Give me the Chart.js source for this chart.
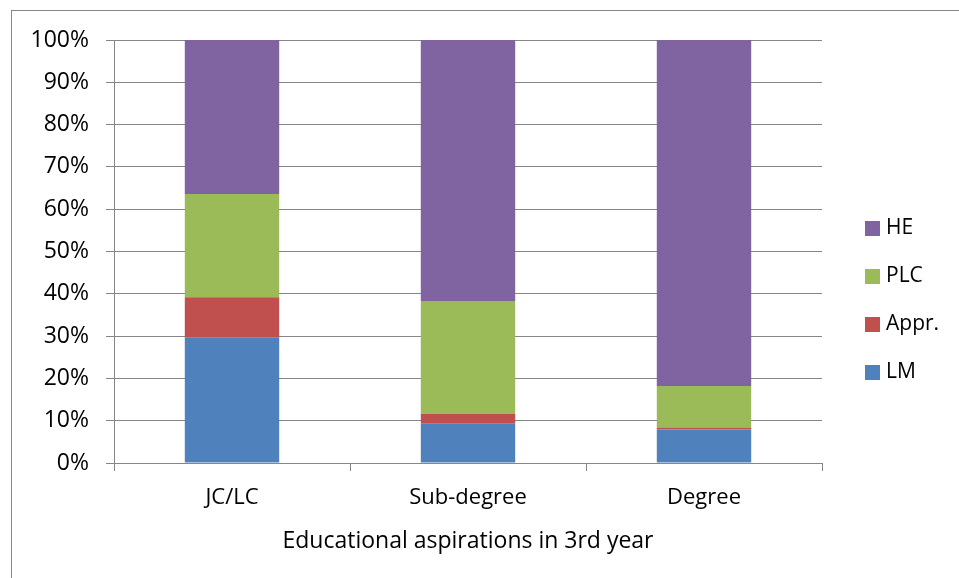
<!DOCTYPE html>
<html lang="en">
<head>
  <meta charset="UTF-8" />
  <title>Educational aspirations in 3rd year</title>
  <script src="https://cdn.jsdelivr.net/npm/chart.js"></script>
  <style>
    html, body { margin: 0; padding: 0; background: #fff; }
    #wrap { width: 959px; height: 578px; }
  </style>
</head>
<body>
  <div id="wrap"><canvas id="eduChart" width="959" height="578"></canvas></div>

  <script>
    const categories = ['JC/LC', 'Sub-degree', 'Degree'];
    const lm   = [29.6, 9.3, 7.9];
    const appr = [9.6, 2.3, 0.5];
    const plc  = [24.4, 26.7, 9.8];
    const he   = [36.4, 61.7, 81.8];
    const yTicks = [0, 10, 20, 30, 40, 50, 60, 70, 80, 90, 100];

    const fontFamily = "'Open Sans', sans-serif";
    const gridColor = '#868686';

    // outer frame (only left/top edges fall inside the picture)
    const framePlugin = {
      id: 'frame',
      beforeDraw(chart) {
        const c = chart.ctx;
        c.save();
        c.fillStyle = '#fff';
        c.fillRect(0, 0, chart.width, chart.height);
        c.strokeStyle = '#888';
        c.lineWidth = 1;
        c.strokeRect(11.5, 10.5, chart.width + 20, chart.height + 20);
        c.restore();
      }
    };

    // legend on the right, top entry = last series
    const sideLegend = {
      id: 'sideLegend',
      afterDraw(chart) {
        const c = chart.ctx;
        const sets = chart.data.datasets.slice().reverse();
        c.save();
        c.font = "21px " + fontFamily;
        c.textBaseline = 'middle';
        sets.forEach((ds, i) => {
          const y = 228 + i * 48;
          c.fillStyle = ds.backgroundColor;
          c.fillRect(865, y - 7, 15, 15);
          c.fillStyle = '#000';
          c.fillText(ds.label, 886, y);
        });
        c.restore();
      }
    };

    const ctx = document.getElementById('eduChart').getContext('2d');
    new Chart(ctx, {
      type: 'bar',
      data: {
        labels: categories,
        datasets: [
          { label: 'LM',    data: lm,   backgroundColor: '#4F81BD' },
          { label: 'Appr.', data: appr, backgroundColor: '#C0504D' },
          { label: 'PLC',   data: plc,  backgroundColor: '#9BBB59' },
          { label: 'HE',    data: he,   backgroundColor: '#8064A2' }
        ]
      },
      options: {
        responsive: false,
        animation: false,
        datasets: { bar: { barPercentage: 0.4, categoryPercentage: 1, borderWidth: 0 } },
        layout: { padding: { left: 0, right: 137, top: 40, bottom: 0 } },
        plugins: { legend: { display: false }, tooltip: { enabled: false } },
        scales: {
          x: {
            stacked: true,
            afterFit: s => { s.height = 115; },
            grid: { drawOnChartArea: false, drawTicks: true, tickLength: 8, offset: true, color: gridColor },
            border: { color: gridColor },
            ticks: { color: '#000', padding: 14, font: { family: fontFamily, size: 22 } },
            title: {
              display: true,
              text: 'Educational aspirations in 3rd year',
              color: '#000',
              padding: { top: 0, bottom: 23 },
              font: { family: fontFamily, size: 23 }
            }
          },
          y: {
            stacked: true,
            min: 0,
            max: 100,
            afterFit: s => { s.width = 114; },
            afterBuildTicks: s => { s.ticks = yTicks.map(v => ({ value: v })); },
            grid: { color: gridColor, tickLength: 8 },
            border: { color: gridColor },
            ticks: {
              color: '#000',
              padding: 17,
              font: { family: fontFamily, size: 23 },
              callback: v => v + '%'
            }
          }
        }
      },
      plugins: [framePlugin, sideLegend]
    });
  </script>
</body>
</html>
